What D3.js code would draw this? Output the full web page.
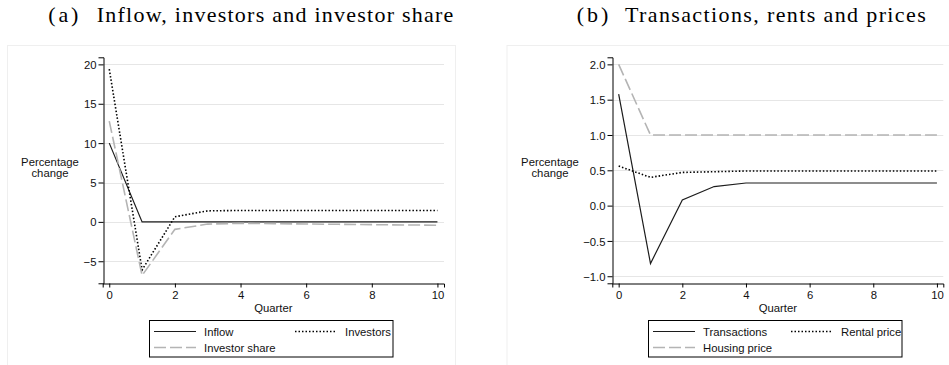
<!DOCTYPE html>
<html>
<head>
<meta charset="utf-8">
<script src="https://cdn.jsdelivr.net/npm/d3@7"></script>
<style>
  html, body { margin: 0; padding: 0; background: #fff; }
  svg { display: block; }
  .lbl { font-family: "Liberation Sans", Arial, sans-serif; font-size: 11.3px; fill: #111; }
  .ttl { font-family: "Liberation Serif", "Times New Roman", serif; font-size: 22px; fill: #000; }
</style>
</head>
<body>
<svg id="chart" width="949" height="365"></svg>
<script>
// Impulse responses, quarters 0..10
const quarters = [0, 1, 2, 3, 4, 5, 6, 7, 8, 9, 10];

// Panel (a)
const inflow        = [10, 0, 0, 0, 0, 0, 0, 0, 0, 0, 0];
const investors     = [19.4, -6.1, 0.65, 1.4, 1.45, 1.45, 1.45, 1.45, 1.45, 1.45, 1.45];
const investorShare = [12.8, -6.8, -0.95, -0.28, -0.18, -0.22, -0.27, -0.31, -0.35, -0.39, -0.42];
const ticksA = [-5, 0, 5, 10, 15, 20];

// Panel (b)
const transactions = [1.58, -0.82, 0.08, 0.27, 0.32, 0.32, 0.32, 0.32, 0.32, 0.32, 0.32];
const rentalPrice  = [0.56, 0.40, 0.47, 0.48, 0.49, 0.49, 0.49, 0.49, 0.49, 0.49, 0.49];
const housingPrice = [2.0, 1.0, 1.0, 1.0, 1.0, 1.0, 1.0, 1.0, 1.0, 1.0, 1.0];
const ticksB = [-1.0, -0.5, 0.0, 0.5, 1.0, 1.5, 2.0];

const xTicks = [0, 2, 4, 6, 8, 10];

const styles = {
  solid:  { stroke: "#1c1c1c", width: 1.2, dash: null },
  dotted: { stroke: "#000",    width: 1.6, dash: "1.5,2" },
  dashed: { stroke: "#b4b4b4", width: 1.6, dash: "12,4" }
};

const svg = d3.select("#chart");
const minus = s => s.replace("-", "\u2212");

function panel(cfg) {
  const g = svg.append("g");

  // light outer frame
  g.append("rect")
    .attr("x", cfg.frame[0] + 0.5).attr("y", 45.5)
    .attr("width", cfg.frame[1] - cfg.frame[0]).attr("height", 340)
    .attr("fill", "none").attr("stroke", "#efefef").attr("stroke-width", 1);

  const x = d3.scaleLinear().domain([-0.2, 10.2]).range([cfg.left, cfg.right]);
  const y = d3.scaleLinear().domain(cfg.yDomain).range([283.3, 57.3]);

  // gridlines
  g.append("g").selectAll("line").data(cfg.yTicks).join("line")
    .attr("x1", cfg.left).attr("x2", cfg.right)
    .attr("y1", d => Math.round(y(d)) + 0.5).attr("y2", d => Math.round(y(d)) + 0.5)
    .attr("stroke", "#e6e6e6").attr("stroke-width", 1);

  // series
  const line = d3.line().x((d, i) => x(quarters[i])).y(d => y(d));
  cfg.series.forEach(s => {
    const st = styles[s.style];
    g.append("path").datum(s.values)
      .attr("d", line)
      .attr("fill", "none")
      .attr("stroke", st.stroke)
      .attr("stroke-width", st.width)
      .attr("stroke-dasharray", st.dash);
  });

  // axes
  const yAxis = d3.axisLeft(y).tickValues(cfg.yTicks).tickSizeOuter(0).tickSize(5)
    .tickPadding(2).tickFormat(d => minus(cfg.fmt(d)));
  const ya = g.append("g").attr("transform", `translate(${Math.round(cfg.left) + 0.5},0)`).call(yAxis);
  const xAxis = d3.axisBottom(x).tickValues(xTicks).tickSizeOuter(0).tickSize(4).tickPadding(3);
  const xa = g.append("g").attr("transform", `translate(0,${Math.round(283.3) + 0.5})`).call(xAxis);
  [ya, xa].forEach(a => {
    a.selectAll("text").attr("class", "lbl").attr("font-size", null).attr("font-family", null);
    a.selectAll("path,line").attr("stroke", "#000").attr("stroke-width", 1);
  });
  ya.selectAll("text").attr("dy", "0.36em");

  // axis titles
  const mid = (x(0) + x(10)) / 2;
  g.append("text").attr("class", "lbl").attr("x", mid).attr("y", 311.5)
    .attr("text-anchor", "middle").text("Quarter");
  const yt = g.append("text").attr("class", "lbl").attr("text-anchor", "middle");
  yt.append("tspan").attr("x", cfg.yTitleX).attr("y", 166).text("Percentage");
  yt.append("tspan").attr("x", cfg.yTitleX).attr("y", 177).text("change");

  // legend
  const L = cfg.legend;
  g.append("rect").attr("x", L.x0 + 0.5).attr("y", 320.5)
    .attr("width", L.x1 - L.x0).attr("height", 36.5)
    .attr("fill", "#fff").attr("stroke", "#000").attr("stroke-width", 1);
  const items = [
    { s: cfg.series[0], sx: L.x0 + 5, row: 0 },
    { s: cfg.series[1], sx: L.col2, row: 0 },
    { s: cfg.series[2], sx: L.x0 + 5, row: 1 }
  ];
  items.forEach(it => {
    const st = styles[it.s.style];
    const cy = 331.5 + it.row * 16;
    g.append("line").attr("x1", it.sx).attr("x2", it.sx + 42)
      .attr("y1", cy).attr("y2", cy)
      .attr("stroke", st.stroke).attr("stroke-width", st.width)
      .attr("stroke-dasharray", st.dash);
    g.append("text").attr("class", "lbl").attr("x", it.sx + 50).attr("y", cy + 4)
      .text(it.s.name);
  });

  // panel title
  const T = cfg.title;
  g.append("text").attr("class", "ttl").attr("x", T.x0).attr("y", 22)
    .attr("textLength", T.w0).attr("lengthAdjust", "spacing").text(T.tag);
  g.append("text").attr("class", "ttl").attr("x", T.x1).attr("y", 22)
    .attr("textLength", T.w1).attr("lengthAdjust", "spacing").text(T.text);
}

panel({
  frame: [7, 455],
  left: 102.7, right: 444,
  yDomain: [-7.8, 20.9],
  yTicks: ticksA,
  fmt: d3.format("d"),
  yTitleX: 50,
  series: [
    { name: "Inflow", values: inflow, style: "solid" },
    { name: "Investors", values: investors, style: "dotted" },
    { name: "Investor share", values: investorShare, style: "dashed" }
  ],
  legend: { x0: 149, x1: 392.5, col2: 295 },
  title: { tag: "(a)", x0: 48.3, w0: 30, text: "Inflow, investors and investor share", x1: 96.7, w1: 356.6 }
});

panel({
  frame: [506.5, 960],
  left: 612.3, right: 943.3,
  yDomain: [-1.1, 2.1],
  yTicks: ticksB,
  fmt: d3.format(".1f"),
  yTitleX: 550,
  series: [
    { name: "Transactions", values: transactions, style: "solid" },
    { name: "Rental price", values: rentalPrice, style: "dotted" },
    { name: "Housing price", values: housingPrice, style: "dashed" }
  ],
  legend: { x0: 648, x1: 901.5, col2: 791 },
  title: { tag: "(b)", x0: 576.7, w0: 31.6, text: "Transactions, rents and prices", x1: 625, w1: 300.7 }
});
</script>
</body>
</html>
